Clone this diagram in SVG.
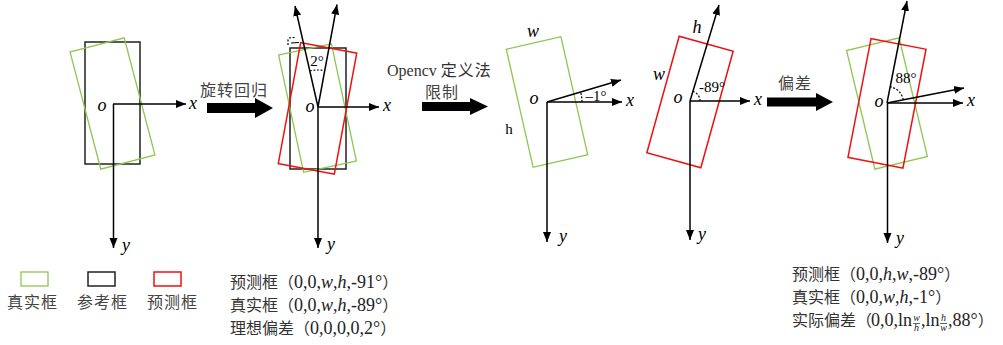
<svg xmlns="http://www.w3.org/2000/svg" width="1003" height="345" viewBox="0 0 1003 345">
<style>
.axa{stroke:#000;stroke-width:1.5;fill:none;marker-end:url(#ah)}
.gr{fill:none;stroke:#8cc751;stroke-width:1.3}
.rd{fill:none;stroke:#ee1111;stroke-width:1.5}
.bk{fill:none;stroke:#222;stroke-width:1.5}
.dash{fill:none;stroke:#000;stroke-width:1.2;stroke-dasharray:2 1.6}
.it{font-family:"Liberation Serif","DejaVu Serif",serif;font-style:italic;font-size:18px;fill:#000}
.ang{font-family:"Liberation Serif","DejaVu Serif",serif;font-size:15px;fill:#000}
.cn{font-family:"Noto Sans CJK SC","Noto Sans",sans-serif;font-size:16px;fill:#444;letter-spacing:1px}
.mx{font-family:"Liberation Serif","DejaVu Serif",serif;font-size:18px;fill:#222}
.c{font-family:"Noto Sans CJK SC","Noto Sans",sans-serif;font-size:16px;fill:#333}
.fr{font-family:"Liberation Serif","DejaVu Serif",serif;font-style:italic;font-size:10px;fill:#222}
.big{fill:#000}
</style>
<defs>
<marker id="ah" markerUnits="userSpaceOnUse" markerWidth="11" markerHeight="9" refX="10" refY="4.5" orient="auto">
<path d="M0,0.5 L10,4.5 L0,8.5 z" fill="#000"/>
</marker>
</defs>
<rect width="1003" height="345" fill="#fff"/>

<g id="panel1">
<rect class="bk" x="85" y="42" width="55" height="122"/>
<rect class="gr" x="-28" y="-60.5" width="56" height="121" transform="translate(112.5,103.5) rotate(-14.7)"/>
<line class="axa" x1="113" y1="104" x2="186" y2="104"/>
<line class="axa" x1="113.5" y1="104" x2="113.5" y2="248"/>
<text class="it" x="102" y="111" text-anchor="middle">o</text>
<text class="it" x="193" y="109" text-anchor="middle">x</text>
<text class="it" x="126" y="251" text-anchor="middle">y</text>
</g>

<g id="panel2">
<rect class="bk" x="290" y="48" width="56" height="121"/>
<rect class="gr" x="-27" y="-60" width="54" height="120" transform="translate(317.5,108) rotate(-12)"/>
<rect class="rd" x="-28.5" y="-61.5" width="57" height="123" transform="translate(317.5,108.4) rotate(10.5)"/>
<line class="axa" x1="318" y1="107" x2="295" y2="6"/>
<line class="axa" x1="318" y1="107" x2="337" y2="4.5"/>
<line class="axa" x1="318" y1="107" x2="379" y2="107"/>
<line class="axa" x1="318" y1="107" x2="318" y2="248"/>
<path class="dash" d="M309.8,70.9 A37,37 0 0 1 324.7,70.6"/>
<path class="dash" d="M288,45 L288,40 Q288,37.5 292,37.5 L296,37.5"/>
<line x1="291" y1="43" x2="299" y2="42.5" stroke="#000" stroke-width="1.2"/>
<text class="ang" x="317" y="66" text-anchor="middle">2°</text>
<text class="it" x="310" y="112" text-anchor="middle">o</text>
<text class="it" x="387" y="111" text-anchor="middle">x</text>
<text class="it" x="331" y="250" text-anchor="middle">y</text>
</g>

<g id="panel3">
<rect class="gr" x="-28" y="-60.5" width="56" height="121" transform="translate(547,102) rotate(-12.8)"/>
<line class="axa" x1="547" y1="102" x2="621" y2="80"/>
<line class="axa" x1="547" y1="102" x2="622" y2="102"/>
<line class="axa" x1="547" y1="102" x2="547" y2="242"/>
<path class="dash" d="M582,102 A35,35 0 0 0 580.6,92.1"/>
<text class="ang" x="596" y="101" text-anchor="middle">–1°</text>
<text class="it" x="534" y="104" text-anchor="middle">o</text>
<text class="it" x="630" y="106" text-anchor="middle">x</text>
<text class="it" x="563" y="242" text-anchor="middle">y</text>
<text class="it" x="533" y="37" text-anchor="middle">w</text>
<text class="ang" x="509" y="134" text-anchor="middle" font-size="18">h</text>
</g>

<g id="panel4">
<rect class="rd" x="-28" y="-60.5" width="56" height="121" transform="translate(690,102) rotate(15.5)"/>
<line class="axa" x1="690" y1="101" x2="719" y2="5"/>
<line class="axa" x1="690" y1="101" x2="750" y2="101"/>
<line class="axa" x1="690" y1="101" x2="690" y2="240"/>
<path class="dash" d="M700,101 A10,10 0 0 0 692.9,91.4"/>
<text class="ang" x="712" y="92" text-anchor="middle" font-size="14">-89°</text>
<text class="it" x="697" y="33" text-anchor="middle">h</text>
<text class="it" x="659" y="80" text-anchor="middle">w</text>
<text class="it" x="678" y="103" text-anchor="middle">o</text>
<text class="it" x="758" y="105" text-anchor="middle">x</text>
<text class="it" x="702" y="240" text-anchor="middle">y</text>
</g>

<g id="panel5">
<rect class="gr" x="-27" y="-61" width="54" height="122" transform="translate(887,103.5) rotate(-13.4)"/>
<rect class="rd" x="-28" y="-60.5" width="56" height="121" transform="translate(887,103.3) rotate(11)"/>
<line class="axa" x1="887" y1="103" x2="907" y2="1"/>
<line class="axa" x1="887" y1="103" x2="964" y2="88"/>
<line class="axa" x1="887" y1="103" x2="963" y2="103"/>
<line class="axa" x1="887.5" y1="103" x2="887.5" y2="243"/>
<path class="dash" d="M903.3,99.8 A16.6,16.6 0 0 0 890.2,86.7"/>
<text class="ang" x="906" y="83" text-anchor="middle" font-size="16">88°</text>
<text class="it" x="879" y="107" text-anchor="middle">o</text>
<text class="it" x="971" y="106" text-anchor="middle">x</text>
<text class="it" x="900" y="244" text-anchor="middle">y</text>
</g>

<g id="connectors">
<polygon class="big" points="207,103 255,103 255,98 273,108 255,118 255,113 207,113"/>
<polygon class="big" points="422,102 470,102 470,98 488,106.5 470,115 470,111 422,111"/>
<polygon class="big" points="767,97.5 816,97.5 816,93 833,102 816,111 816,106.5 767,106.5"/>
<text class="cn" x="200" y="96">旋转回归</text>
<text x="387" y="76" font-family="'Liberation Serif','DejaVu Serif',serif" font-size="16" fill="#333">Opencv <tspan font-family="'Noto Sans CJK SC',sans-serif" letter-spacing="1">定义法</tspan></text>
<text class="cn" x="425" y="98">限制</text>
<text class="cn" x="778" y="89">偏差</text>
</g>

<g id="legend">
<rect class="gr" x="21" y="272" width="27" height="14" stroke-width="1.5"/>
<rect class="bk" x="88" y="272" width="27" height="14"/>
<rect class="rd" x="154" y="272" width="27" height="14"/>
<text class="cn" x="7" y="308">真实框</text>
<text class="cn" x="77" y="308">参考框</text>
<text class="cn" x="147" y="308">预测框</text>
</g>

<g id="notes-left">
<text class="mx" x="230" y="288"><tspan class="c">预测框（</tspan>0,0,<tspan font-style="italic">w</tspan>,<tspan font-style="italic">h</tspan>,-91°<tspan class="c">）</tspan></text>
<text class="mx" x="230" y="311"><tspan class="c">真实框（</tspan>0,0,<tspan font-style="italic">w</tspan>,<tspan font-style="italic">h</tspan>,-89°<tspan class="c">）</tspan></text>
<text class="mx" x="230" y="334"><tspan class="c">理想偏差（</tspan>0,0,0,0,2°<tspan class="c">）</tspan></text>
</g>

<g id="notes-right">
<text class="mx" x="792" y="280"><tspan class="c">预测框（</tspan>0,0,<tspan font-style="italic">h</tspan>,<tspan font-style="italic">w</tspan>,-89°<tspan class="c">）</tspan></text>
<text class="mx" x="792" y="303"><tspan class="c">真实框（</tspan>0,0,<tspan font-style="italic">w</tspan>,<tspan font-style="italic">h</tspan>,-1°<tspan class="c">）</tspan></text>
<text class="c" x="792" y="326">实际偏差（</text>
<text class="mx" x="871" y="326">0,0,ln</text>
<text class="fr" x="916.5" y="321" text-anchor="middle">w</text>
<line x1="913" y1="323.5" x2="920" y2="323.5" stroke="#222" stroke-width="0.7"/>
<text class="fr" x="916.5" y="331" text-anchor="middle">h</text>
<text class="mx" x="921" y="326">,ln</text>
<text class="fr" x="943.5" y="321" text-anchor="middle">h</text>
<line x1="940" y1="323.5" x2="947" y2="323.5" stroke="#222" stroke-width="0.7"/>
<text class="fr" x="943.5" y="331" text-anchor="middle">w</text>
<text class="mx" x="948" y="326">,88°<tspan class="c">）</tspan></text>
</g>
</svg>
